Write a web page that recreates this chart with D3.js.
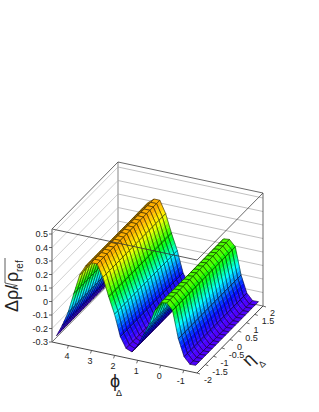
<!DOCTYPE html>
<html lang='en'>
  <head>
    <meta charset='utf-8'>
    <title>Surface plot</title>
    <script src='https://cdnjs.cloudflare.com/ajax/libs/d3/7.8.5/d3.min.js'></script>
    <style>
      body { margin: 0; background: white; }
      text { font-family: 'Liberation Sans', sans-serif; fill: #222; }
    </style>
  </head>
  <body>
    <script>
      // bin centres
      var phiCenters = [-1.445,-1.194,-0.942,-0.691,-0.440,-0.188,0.063,0.314,0.565,0.817,1.068,1.319,1.571,
                        1.822,2.073,2.325,2.576,2.827,3.079,3.330,3.581,3.833,4.084,4.335,4.587];
      var etaCenters = [-1.9,-1.7,-1.5,-1.3,-1.1,-0.9,-0.7,-0.5,-0.3,-0.1,
                        0.1,0.3,0.5,0.7,0.9,1.1,1.3,1.5,1.7,1.9];
      // surface height at each phi bin (it barely changes along eta)
      var zByPhi = [-0.260,-0.262,-0.215,-0.090,0.110,0.155,0.150,0.085,-0.030,-0.115,-0.205,-0.262,-0.245,
                    -0.167,-0.010,0.110,0.245,0.335,0.335,0.300,0.225,0.080,-0.070,-0.175,-0.262];

      var zTicks = [0.5,0.4,0.3,0.2,0.1,0,-0.1,-0.2,-0.3];
      var phiTicks = [4,3,2,1,0,-1];
      var etaTicks = [-2,-1.5,-1,-0.5,0,0.5,1,1.5,2];
      var paletteZ = [-0.26,-0.15,-0.01,0.10,0.24,0.335];
      var paletteColors = ['#5a00ff','#0010ff','#00ffff','#00ff00','#ffff00','#ffa000'];

      var w = 319, h = 412;
      var svg = d3.select('body').append('svg').attr('width', w).attr('height', h);

      // oblique projection, one scale per screen direction
      var phiX = d3.scaleLinear().domain([4.712,-1.571]).range([0,145]);
      var phiY = d3.scaleLinear().domain([4.712,-1.571]).range([0,31]);
      var etaX = d3.scaleLinear().domain([-2,2]).range([0,66]);
      var etaY = d3.scaleLinear().domain([-2,2]).range([0,-67]);
      var zY = d3.scaleLinear().domain([-0.3,0.5]).range([0,-108]);
      var zTop = 0.537;
      var etaMin = -2, etaMax = 2, phiMin = -1.571, phiMax = 4.712, zMin = -0.3;

      function pt(phi, eta, z){
        return [52 + phiX(phi) + etaX(eta), 342 + phiY(phi) + etaY(eta) + zY(z)];
      }
      var line = d3.line();
      function seg(a, b, stroke, width){
        svg.append('path').attr('d', line([a,b])).attr('fill','none')
           .attr('stroke', stroke).attr('stroke-width', width);
      }

      // back walls with z grid
      zTicks.slice(0,8).forEach(function(z){
        seg(pt(phiMax,etaMin,z), pt(phiMax,etaMax,z), '#c4c4c4', 0.8);
        seg(pt(phiMax,etaMax,z), pt(phiMin,etaMax,z), '#b0b0b0', 0.8);
      });
      seg(pt(phiMax,etaMax,zMin), pt(phiMax,etaMax,zTop), '#a8a8a8', 1.4);
      seg(pt(phiMin,etaMax,zMin), pt(phiMin,etaMax,zTop), '#444', 0.8);
      seg(pt(phiMax,etaMin,zTop), pt(phiMax,etaMax,zTop), '#444', 0.8);
      seg(pt(phiMax,etaMax,zTop), pt(phiMin,etaMax,zTop), '#444', 0.8);
      seg(pt(phiMin,etaMax,zTop), pt(phiMin,etaMin,zTop), '#444', 0.8);
      seg(pt(phiMax,etaMin,zMin), pt(phiMax,etaMax,zMin), '#777', 1);
      seg(pt(phiMax,etaMax,zMin), pt(phiMin,etaMax,zMin), '#777', 1);

      // contour bands
      var nLevels = 20;
      var zLo = d3.min(zByPhi) - 1e-6, zHi = d3.max(zByPhi) + 1e-6;
      var levels = d3.range(nLevels + 1).map(function(i){ return zLo + (zHi - zLo) * i / nLevels; });
      var colour = d3.scaleLinear().domain(paletteZ).range(paletteColors).clamp(true);

      function clipBelow(poly, lim, keepAbove){
        var out = [];
        poly.forEach(function(p, i){
          var q = poly[(i + 1) % poly.length];
          var pIn = keepAbove ? p[2] >= lim : p[2] <= lim;
          var qIn = keepAbove ? q[2] >= lim : q[2] <= lim;
          if (pIn) out.push(p);
          if (pIn !== qIn){
            var t = (lim - p[2]) / (q[2] - p[2]);
            out.push([p[0] + t*(q[0]-p[0]), p[1] + t*(q[1]-p[1]), lim]);
          }
        });
        return out;
      }

      // far cells first, near cells last
      var g = svg.append('g');
      for (var j = etaCenters.length - 2; j >= 0; j--){
        for (var i = phiCenters.length - 2; i >= 0; i--){
          var quad = [[phiCenters[i],etaCenters[j],zByPhi[i]],
                      [phiCenters[i+1],etaCenters[j],zByPhi[i+1]],
                      [phiCenters[i+1],etaCenters[j+1],zByPhi[i+1]],
                      [phiCenters[i],etaCenters[j+1],zByPhi[i]]];
          for (var k = 0; k < nLevels; k++){
            var band = clipBelow(clipBelow(quad, levels[k], true), levels[k+1], false);
            if (band.length < 3) continue;
            var c = colour((levels[k] + levels[k+1]) / 2);
            g.append('path')
             .attr('d', line(band.map(function(p){ return pt(p[0],p[1],p[2]); })) + 'Z')
             .attr('fill', c).attr('stroke', c).attr('stroke-width', 0.35);
          }
          g.append('path')
           .attr('d', line(quad.map(function(p){ return pt(p[0],p[1],p[2]); })) + 'Z')
           .attr('fill','none').attr('stroke','#000').attr('stroke-width', 0.5);
        }
      }

      // front box edges, on top of the surface
      seg(pt(phiMax,etaMin,zTop), pt(phiMin,etaMin,zTop), '#333', 0.8);
      seg(pt(phiMax,etaMin,zMin), pt(phiMax,etaMin,zTop), '#888', 1.4);
      seg(pt(phiMax,etaMin,zMin), pt(phiMin,etaMin,zMin), '#333', 0.9);
      seg(pt(phiMin,etaMin,zMin), pt(phiMin,etaMax,zMin), '#333', 0.9);

      // z axis
      zTicks.forEach(function(z){
        var p = pt(phiMax,etaMin,z);
        seg([p[0]-3,p[1]], p, '#444', 0.8);
        svg.append('text').attr('x', p[0]-4).attr('y', p[1]+3).attr('text-anchor','end')
           .attr('font-size', 9).text(z);
      });
      // phi axis
      phiTicks.forEach(function(v){
        var p = pt(v,etaMin,zMin);
        seg(p, [p[0]-1,p[1]+3], '#444', 0.8);
        svg.append('text').attr('x', p[0]+1).attr('y', p[1]+13.5).attr('text-anchor','end')
           .attr('font-size', 9).text(v);
      });
      // eta axis, labels start a fixed step right of the tick
      etaTicks.forEach(function(v){
        var p = pt(phiMin,v,zMin);
        seg(p, [p[0]+3,p[1]+1], '#444', 0.8);
        svg.append('text').attr('x', p[0]+7).attr('y', p[1]+10).attr('font-size', 9).text(v);
      });

      // axis titles
      svg.append('text').attr('x', 115).attr('y', 387).attr('text-anchor','middle')
         .attr('font-size', 18).text('ϕ');
      svg.append('text').attr('x', 119).attr('y', 396).attr('text-anchor','middle')
         .attr('font-size', 9).text('Δ');
      svg.append('text').attr('transform','translate(250,361) rotate(-45)').attr('text-anchor','middle')
         .attr('y', 4).attr('font-size', 18).text('η');
      svg.append('text').attr('transform','translate(262,364) rotate(-45)').attr('text-anchor','middle')
         .attr('y', 3).attr('font-size', 9).text('Δ');

      var zTitle = svg.append('g').attr('transform','translate(18,312) rotate(-90)');
      zTitle.append('text').attr('font-size', 18).text('Δρ/');
      zTitle.append('path').attr('d', line([[24,-4],[25,-5],[26.3,-0.7],[29,-13],[54,-13]]))
            .attr('fill','none').attr('stroke','#333').attr('stroke-width', 0.8);
      zTitle.append('text').attr('x', 30).attr('font-size', 18).text('ρ');
      zTitle.append('text').attr('x', 40).attr('y', 5).attr('font-size', 10).text('ref');
    </script>
  </body>
</html>
